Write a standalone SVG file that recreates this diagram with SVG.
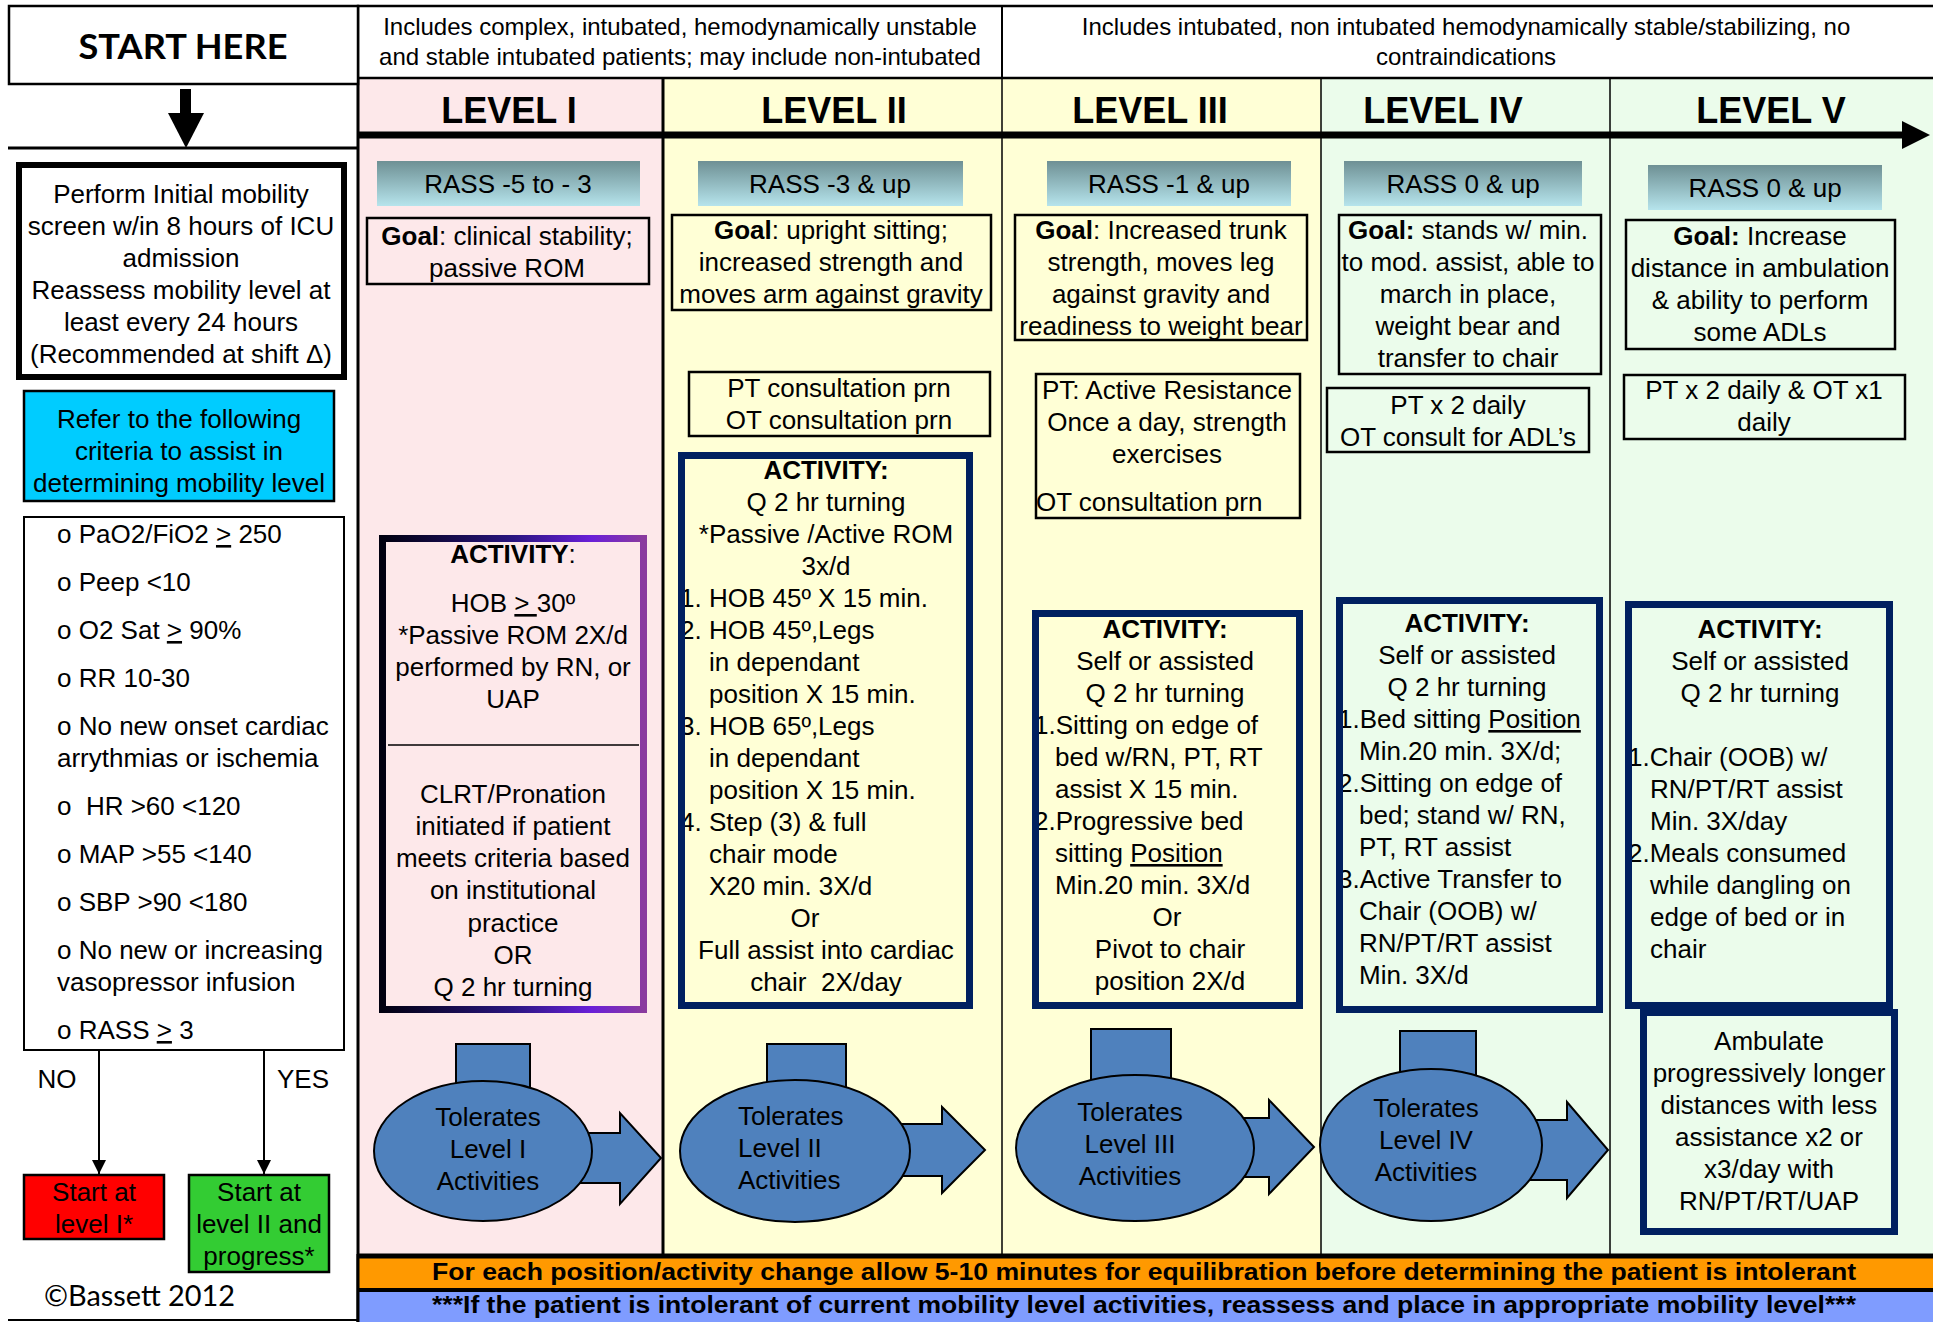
<svg xmlns="http://www.w3.org/2000/svg" width="1933" height="1322" viewBox="0 0 1933 1322">
<defs>
<style>
text{font-family:"Liberation Sans",Arial,sans-serif;font-size:26px;fill:#000}
.c{text-anchor:middle}
.b{font-weight:bold}
.hd{font-size:24px}
.lv{font-size:36px;font-weight:bold;text-anchor:middle}
.box{fill:none;stroke:#000;stroke-width:2.5}
.rass{fill:url(#rassG)}
.act{fill:none;stroke:#002060;stroke-width:7}
.blob{fill:#4F81BD;stroke:#000;stroke-width:2}
.u{text-decoration:underline}
.div{stroke:#000;stroke-width:1.5}
</style>
<linearGradient id="rassG" x1="0" y1="0" x2="0" y2="1">
<stop offset="0" stop-color="#6E9094"/>
<stop offset="1" stop-color="#B6E4EC"/>
</linearGradient>
<linearGradient id="purG" x1="0" y1="0" x2="1" y2="0">
<stop offset="0" stop-color="#000010"/>
<stop offset="0.5" stop-color="#2A1580"/>
<stop offset="0.8" stop-color="#6A1FD8"/>
<stop offset="1" stop-color="#8A3A9E"/>
</linearGradient>
<marker id="ah" viewBox="0 0 10 10" refX="10" refY="5" markerWidth="14" markerHeight="14" markerUnits="userSpaceOnUse" orient="auto">
<path d="M0,0 L10,5 L0,10 z" fill="#000"/>
</marker>
</defs>

<rect x="0" y="0" width="1933" height="1322" fill="#fff"/>

<g id="columns">
<rect x="358" y="78" width="305" height="1178" fill="#FDE8EA"/>
<rect x="663" y="78" width="658" height="1178" fill="#FFFFD6"/>
<rect x="1321" y="78" width="612" height="1178" fill="#EBFCEB"/>
<line x1="663" y1="78" x2="663" y2="1256" stroke="#000" stroke-width="3"/>
<line class="div" x1="1002" y1="78" x2="1002" y2="1256"/>
<line class="div" x1="1321" y1="78" x2="1321" y2="1256"/>
<line class="div" x1="1610" y1="78" x2="1610" y2="1256"/>
<line x1="358" y1="5" x2="358" y2="1322" stroke="#000" stroke-width="3"/>
</g>

<g id="header">
<rect x="358" y="6" width="1580" height="72" fill="#fff" stroke="#000" stroke-width="2.5"/>
<line x1="1002" y1="6" x2="1002" y2="78" stroke="#000" stroke-width="2"/>
<text class="c hd" x="680" y="35">Includes complex, intubated, hemodynamically unstable</text>
<text class="c hd" x="680" y="65">and stable intubated patients; may include non-intubated</text>
<text class="c hd" x="1466" y="35">Includes intubated, non intubated hemodynamically stable/stabilizing, no</text>
<text class="c hd" x="1466" y="65">contraindications</text>
<text class="lv" x="509" y="123">LEVEL I</text>
<text class="lv" x="834" y="123">LEVEL II</text>
<text class="lv" x="1150" y="123">LEVEL III</text>
<text class="lv" x="1443" y="123">LEVEL IV</text>
<text class="lv" x="1771" y="123">LEVEL V</text>
</g>

<g id="start">
<rect x="9" y="6" width="349" height="78" fill="#fff" stroke="#000" stroke-width="2.5"/>
<text class="c b" x="183" y="59" style="font-family:Lato,'Liberation Sans',sans-serif;font-size:34px" textLength="209" lengthAdjust="spacingAndGlyphs">START HERE</text>
</g>

<g id="screen">
<rect x="19" y="165" width="325" height="212" fill="#fff" stroke="#000" stroke-width="6"/>
<text class="c" x="181" y="203">Perform Initial mobility</text>
<text class="c" x="181" y="235">screen w/in 8 hours of ICU</text>
<text class="c" x="181" y="267">admission</text>
<text class="c" x="181" y="299">Reassess mobility level at</text>
<text class="c" x="181" y="331">least every 24 hours</text>
<text class="c" x="181" y="363">(Recommended at shift Δ)</text>
</g>

<g id="refer">
<rect x="24" y="391" width="310" height="110" fill="#00CCFF" stroke="#000" stroke-width="2.5"/>
<text class="c" x="179" y="428">Refer to the following</text>
<text class="c" x="179" y="460">criteria to assist in</text>
<text class="c" x="179" y="492">determining mobility level</text>
</g>

<g id="criteria">
<rect x="24" y="517" width="320" height="533" fill="#fff" stroke="#000" stroke-width="2"/>
<text x="57" y="543">o PaO2/FiO2 <tspan class="u">&gt;</tspan> 250</text>
<text x="57" y="591">o Peep &lt;10</text>
<text x="57" y="639">o O2 Sat <tspan class="u">&gt;</tspan> 90%</text>
<text x="57" y="687">o RR 10-30</text>
<text x="57" y="735">o No new onset cardiac</text>
<text x="57" y="767">arrythmias or ischemia</text>
<text x="57" y="815" xml:space="preserve">o  HR &gt;60 &lt;120</text>
<text x="57" y="863">o MAP &gt;55 &lt;140</text>
<text x="57" y="911">o SBP &gt;90 &lt;180</text>
<text x="57" y="959">o No new or increasing</text>
<text x="57" y="991">vasopressor infusion</text>
<text x="57" y="1039">o RASS <tspan class="u">&gt;</tspan> 3</text>
</g>

<g id="connectors">
<rect x="180" y="89" width="11" height="26" fill="#000"/>
<path d="M168,113 L204,113 L186,148 Z" fill="#000"/>
<line x1="8" y1="148" x2="358" y2="148" stroke="#000" stroke-width="3"/>
<line x1="358" y1="135" x2="1905" y2="135" stroke="#000" stroke-width="7"/>
<path d="M1902,121 L1930,135 L1902,149 Z" fill="#000"/>
<line x1="99" y1="1050" x2="99" y2="1174" stroke="#000" stroke-width="2" marker-end="url(#ah)"/>
<line x1="264" y1="1050" x2="264" y2="1174" stroke="#000" stroke-width="2" marker-end="url(#ah)"/>
<text class="c" x="57" y="1088">NO</text>
<text class="c" x="303" y="1088">YES</text>
</g>

<g id="startL1">
<rect x="24" y="1175" width="140" height="64" fill="#FF0000" stroke="#000" stroke-width="2.5"/>
<text class="c" x="94" y="1201">Start at</text>
<text class="c" x="94" y="1233">level I*</text>
</g>

<g id="startL2">
<rect x="189" y="1175" width="140" height="97" fill="#33CC33" stroke="#000" stroke-width="2.5"/>
<text class="c" x="259" y="1201">Start at</text>
<text class="c" x="259" y="1233">level II and</text>
<text class="c" x="259" y="1265">progress*</text>
</g>

<g id="copyright">
<text x="44" y="1306" style="font-family:Lato,'Liberation Sans',sans-serif;font-size:28px" textLength="191" lengthAdjust="spacingAndGlyphs">©Bassett 2012</text>
<line x1="8" y1="1320" x2="358" y2="1320" stroke="#000" stroke-width="2"/>
</g>

<g id="rass1"><rect class="rass" x="377" y="161" width="263" height="45"/><text class="c" x="508" y="193">RASS -5 to - 3</text></g>
<g id="rass2"><rect class="rass" x="698" y="161" width="265" height="45"/><text class="c" x="830" y="193">RASS -3 &amp; up</text></g>
<g id="rass3"><rect class="rass" x="1047" y="161" width="244" height="45"/><text class="c" x="1169" y="193">RASS -1 &amp; up</text></g>
<g id="rass4"><rect class="rass" x="1344" y="161" width="238" height="45"/><text class="c" x="1463" y="193">RASS 0 &amp; up</text></g>
<g id="rass5"><rect class="rass" x="1648" y="165" width="234" height="45"/><text class="c" x="1765" y="197">RASS 0 &amp; up</text></g>

<g id="goal1"><rect class="box" x="367" y="218" width="282" height="66"/>
<text class="c" x="507" y="245"><tspan class="b">Goal</tspan>: clinical stability;</text>
<text class="c" x="507" y="277">passive ROM</text></g>
<g id="goal2"><rect class="box" x="672" y="215" width="319" height="95"/>
<text class="c" x="831" y="239"><tspan class="b">Goal</tspan>: upright sitting;</text>
<text class="c" x="831" y="271">increased strength and</text>
<text class="c" x="831" y="303">moves arm against gravity</text></g>
<g id="goal3"><rect class="box" x="1015" y="215" width="292" height="125"/>
<text class="c" x="1161" y="239"><tspan class="b">Goal</tspan>: Increased trunk</text>
<text class="c" x="1161" y="271">strength, moves leg</text>
<text class="c" x="1161" y="303">against gravity and</text>
<text class="c" x="1161" y="335">readiness to weight bear</text></g>
<g id="goal4"><rect class="box" x="1339" y="215" width="262" height="159"/>
<text class="c" x="1468" y="239"><tspan class="b">Goal:</tspan> stands w/ min.</text>
<text class="c" x="1468" y="271">to mod. assist, able to</text>
<text class="c" x="1468" y="303">march in place,</text>
<text class="c" x="1468" y="335">weight bear and</text>
<text class="c" x="1468" y="367">transfer to chair</text></g>
<g id="goal5"><rect class="box" x="1626" y="220" width="269" height="129"/>
<text class="c" x="1760" y="245"><tspan class="b">Goal:</tspan> Increase</text>
<text class="c" x="1760" y="277">distance in ambulation</text>
<text class="c" x="1760" y="309">&amp; ability to perform</text>
<text class="c" x="1760" y="341">some ADLs</text></g>

<g id="pt2"><rect class="box" x="689" y="372" width="301" height="64"/>
<text class="c" x="839" y="397">PT consultation prn</text>
<text class="c" x="839" y="429">OT consultation prn</text></g>
<g id="pt3"><rect class="box" x="1036" y="374" width="264" height="144"/>
<text class="c" x="1167" y="399">PT: Active Resistance</text>
<text class="c" x="1167" y="431">Once a day, strength</text>
<text class="c" x="1167" y="463">exercises</text>
<text x="1036" y="511">OT consultation prn</text></g>
<g id="pt4"><rect class="box" x="1327" y="388" width="262" height="64"/>
<text class="c" x="1458" y="414">PT x 2 daily</text>
<text class="c" x="1458" y="446">OT consult for ADL’s</text></g>
<g id="pt5"><rect class="box" x="1624" y="375" width="281" height="64"/>
<text class="c" x="1764" y="399">PT x 2 daily &amp; OT x1</text>
<text class="c" x="1764" y="431">daily</text></g>

<g id="act1">
<text class="c" x="513" y="563"><tspan class="b">ACTIVITY</tspan>:</text>
<text class="c" x="513" y="612">HOB <tspan class="u">&gt; </tspan>30º</text>
<text class="c" x="513" y="644">*Passive ROM 2X/d</text>
<text class="c" x="513" y="676">performed by RN, or</text>
<text class="c" x="513" y="708">UAP</text>
<line x1="388" y1="745" x2="639" y2="745" stroke="#000" stroke-width="1.5"/>
<text class="c" x="513" y="803">CLRT/Pronation</text>
<text class="c" x="513" y="835">initiated if patient</text>
<text class="c" x="513" y="867">meets criteria based</text>
<text class="c" x="513" y="899">on institutional</text>
<text class="c" x="513" y="932">practice</text>
<text class="c" x="513" y="964">OR</text>
<text class="c" x="513" y="996">Q 2 hr turning</text>
<rect x="382.5" y="538.5" width="261" height="471" fill="none" stroke="url(#purG)" stroke-width="7"/>
</g>

<g id="act2">
<text class="c b" x="826" y="479">ACTIVITY:</text>
<text class="c" x="826" y="511">Q 2 hr turning</text>
<text class="c" x="826" y="543">*Passive /Active ROM</text>
<text class="c" x="826" y="575">3x/d</text>
<text x="680" y="607">1. HOB 45º X 15 min.</text>
<text x="680" y="639">2. HOB 45º,Legs</text>
<text x="709" y="671">in dependant</text>
<text x="709" y="703">position X 15 min.</text>
<text x="680" y="735">3. HOB 65º,Legs</text>
<text x="709" y="767">in dependant</text>
<text x="709" y="799">position X 15 min.</text>
<text x="680" y="831">4. Step (3) &amp; full</text>
<text x="709" y="863">chair mode</text>
<text x="709" y="895">X20 min. 3X/d</text>
<text class="c" x="805" y="927">Or</text>
<text class="c" x="826" y="959">Full assist into cardiac</text>
<text class="c" x="826" y="991" xml:space="preserve">chair  2X/day</text>
<rect class="act" x="681.5" y="455.5" width="288" height="550"/>
</g>

<g id="act3">
<text class="c b" x="1165" y="638">ACTIVITY:</text>
<text class="c" x="1165" y="670">Self or assisted</text>
<text class="c" x="1165" y="702">Q 2 hr turning</text>
<text x="1034" y="734">1.Sitting on edge of</text>
<text x="1055" y="766">bed w/RN, PT, RT</text>
<text x="1055" y="798">assist X 15 min.</text>
<text x="1034" y="830">2.Progressive bed</text>
<text x="1055" y="862">sitting <tspan class="u">Position</tspan></text>
<text x="1055" y="894">Min.20 min. 3X/d</text>
<text class="c" x="1167" y="926">Or</text>
<text class="c" x="1170" y="958">Pivot to chair</text>
<text class="c" x="1170" y="990">position 2X/d</text>
<rect class="act" x="1035.5" y="613.5" width="264" height="392"/>
</g>

<g id="act4">
<text class="c b" x="1467" y="632">ACTIVITY:</text>
<text class="c" x="1467" y="664">Self or assisted</text>
<text class="c" x="1467" y="696">Q 2 hr turning</text>
<text x="1338" y="728">1.Bed sitting <tspan class="u">Position</tspan></text>
<text x="1359" y="760">Min.20 min. 3X/d;</text>
<text x="1338" y="792">2.Sitting on edge of</text>
<text x="1359" y="824">bed; stand w/ RN,</text>
<text x="1359" y="856">PT, RT assist</text>
<text x="1338" y="888">3.Active Transfer to</text>
<text x="1359" y="920">Chair (OOB) w/</text>
<text x="1359" y="952">RN/PT/RT assist</text>
<text x="1359" y="984">Min. 3X/d</text>
<rect class="act" x="1339.5" y="600.5" width="260" height="409"/>
</g>

<g id="act5">
<text class="c b" x="1760" y="638">ACTIVITY:</text>
<text class="c" x="1760" y="670">Self or assisted</text>
<text class="c" x="1760" y="702">Q 2 hr turning</text>
<text x="1628" y="766">1.Chair (OOB) w/</text>
<text x="1650" y="798">RN/PT/RT assist</text>
<text x="1650" y="830">Min. 3X/day</text>
<text x="1628" y="862">2.Meals consumed</text>
<text x="1650" y="894">while dangling on</text>
<text x="1650" y="926">edge of bed or in</text>
<text x="1650" y="958">chair</text>
<rect class="act" x="1628.5" y="604.5" width="261" height="401"/>
</g>

<g id="ambulate">
<rect class="act" x="1643.5" y="1012.5" width="251" height="219"/>
<text class="c" x="1769" y="1050">Ambulate</text>
<text class="c" x="1769" y="1082">progressively longer</text>
<text class="c" x="1769" y="1114">distances with less</text>
<text class="c" x="1769" y="1146">assistance x2 or</text>
<text class="c" x="1769" y="1178">x3/day with</text>
<text class="c" x="1769" y="1210">RN/PT/RT/UAP</text>
</g>

<g id="tol1">
<rect class="blob" x="456" y="1044" width="74" height="80"/>
<path class="blob" d="M560,1133 H620 V1113 L661,1158 L620,1204 V1183 H560 Z"/>
<ellipse class="blob" cx="483" cy="1151" rx="109" ry="70"/>
<text class="c" x="488" y="1126">Tolerates</text>
<text class="c" x="488" y="1158">Level I</text>
<text class="c" x="488" y="1190">Activities</text>
</g>
<g id="tol2">
<rect class="blob" x="767" y="1044" width="79" height="80"/>
<path class="blob" d="M880,1124 H942 V1107 L985,1150 L942,1193 V1176 H880 Z"/>
<ellipse class="blob" cx="795" cy="1151" rx="115" ry="71"/>
<text x="738" y="1125">Tolerates</text>
<text x="738" y="1157">Level II</text>
<text x="738" y="1189">Activities</text>
</g>
<g id="tol3">
<rect class="blob" x="1091" y="1029" width="80" height="90"/>
<path class="blob" d="M1230,1118 H1269 V1100 L1314,1147 L1269,1194 V1177 H1230 Z"/>
<ellipse class="blob" cx="1135" cy="1148" rx="119" ry="73"/>
<text class="c" x="1130" y="1121">Tolerates</text>
<text class="c" x="1130" y="1153">Level III</text>
<text class="c" x="1130" y="1185">Activities</text>
</g>
<g id="tol4">
<rect class="blob" x="1400" y="1031" width="76" height="90"/>
<path class="blob" d="M1520,1120 H1567 V1102 L1608,1150 L1567,1198 V1180 H1520 Z"/>
<ellipse class="blob" cx="1431" cy="1145" rx="111" ry="76"/>
<text class="c" x="1426" y="1117">Tolerates</text>
<text class="c" x="1426" y="1149">Level IV</text>
<text class="c" x="1426" y="1181">Activities</text>
</g>

<g id="banner-orange">
<rect x="358" y="1256" width="1575" height="34" fill="#FF9900"/>
<line x1="358" y1="1256" x2="1933" y2="1256" stroke="#000" stroke-width="5"/>
<text class="c b" x="1144" y="1280" style="font-size:24px" textLength="1424" lengthAdjust="spacingAndGlyphs">For each position/activity change allow 5-10 minutes for equilibration before determining the patient is intolerant</text>
</g>
<g id="banner-blue">
<rect x="358" y="1291" width="1575" height="31" fill="#7F9CFF"/>
<text class="c b" x="1144" y="1313" style="font-size:24px" textLength="1424" lengthAdjust="spacingAndGlyphs">***If the patient is intolerant of current mobility level activities, reassess and place in appropriate mobility level***</text>
<line x1="358" y1="1290" x2="1933" y2="1290" stroke="#000" stroke-width="4"/>
<line x1="358" y1="1254" x2="358" y2="1322" stroke="#000" stroke-width="3"/>
</g>
</svg>
